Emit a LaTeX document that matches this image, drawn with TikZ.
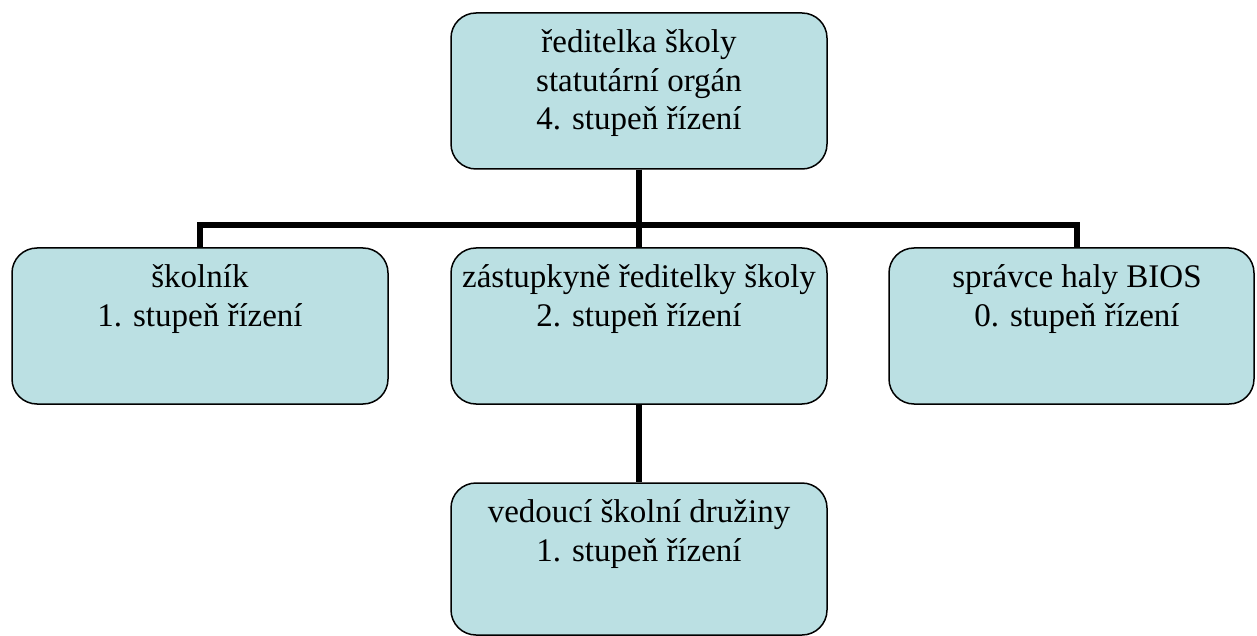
\documentclass[tikz,border=0pt]{standalone}
\usepackage{fontspec}
\setmainfont{Liberation Serif}
\usepackage{tikz}
\definecolor{boxfill}{RGB}{187,224,227}

\tikzset{
  orgbox/.style={draw, line width=1.5pt, fill=boxfill, rounded corners=25pt,
    minimum width=376pt, minimum height=156pt, inner sep=0pt},
  orgtext/.style={anchor=north, yshift=-17.5pt, align=center, inner sep=0pt,
    font=\fontsize{33}{38.5}\selectfont}
}

\begin{document}
\begin{tikzpicture}[x=1pt, y=1pt,
    level 1/.style={level distance=235pt, sibling distance=437pt},
    level 2/.style={level distance=233pt},
    edge from parent/.style={draw, line width=6pt},
    edge from parent path={(\tikzparentnode.south) -- ++(0,-55pt) -| (\tikzchildnode.north)}]
  \useasboundingbox (0,0) rectangle (1257,-636);
  \node [orgbox, label={[orgtext, name=reditelka-text]north:{ředitelka školy\\statutární orgán\\4. stupeň řízení}}] (reditelka) at (639,-91) {}
    child[xshift=-2pt] {node [orgbox, label={[orgtext, name=skolnik-text]north:{školník\\1. stupeň řízení}}] (skolnik) {}}
    child {%
      node [orgbox, label={[orgtext, name=zastupkyne-text]north:{zástupkyně ředitelky školy\\2. stupeň řízení}}] (zastupkyne) {}
      child {node [orgbox, minimum height=152pt, label={[orgtext, name=druzina-text]north:{vedoucí školní družiny\\1. stupeň řízení}}] (druzina) {}}
    }
    child[xshift=-4.5pt, edge from parent path={(\tikzparentnode.south) -- ++(0,-55pt) -| ([xshift=5.5pt]\tikzchildnode.north)}] {%
      node [orgbox, minimum width=365pt, label={[orgtext, xshift=5.5pt, name=spravce-text]north:{správce haly BIOS\\0. stupeň řízení}}] (spravce) {}
    };
\end{tikzpicture}
\end{document}
